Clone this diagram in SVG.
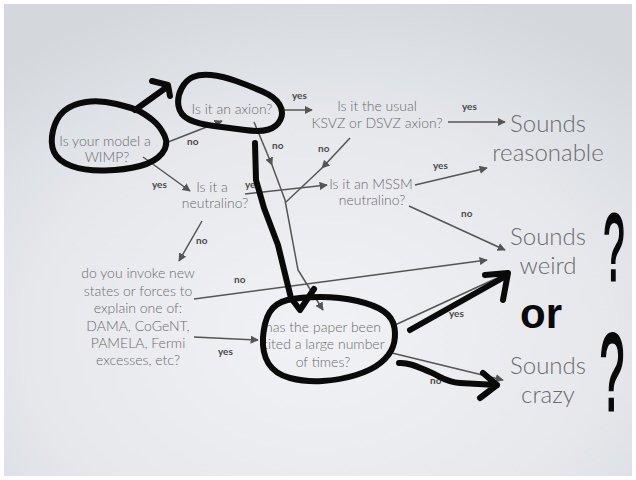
<svg xmlns="http://www.w3.org/2000/svg" width="636" height="480" viewBox="0 0 636 480">
<defs>
<radialGradient id="bg" cx="50%" cy="70%" r="75%">
<stop offset="0" stop-color="#f1f2f5"/>
<stop offset="0.6" stop-color="#e6e8ec"/>
<stop offset="1" stop-color="#d4d8dd"/>
</radialGradient>
<marker id="ah" viewBox="0 0 10 10" refX="9" refY="5" markerWidth="5.5" markerHeight="5.5" orient="auto" markerUnits="strokeWidth">
<path d="M0,0 L10,5 L0,10 z" fill="#555"/>
</marker>
<style>
.t{font-family:Lato,"Open Sans","DejaVu Sans",sans-serif;font-weight:300;font-size:14px;fill:#6b6b6b;text-anchor:middle}
.big{font-family:Lato,"Open Sans","DejaVu Sans",sans-serif;font-weight:300;font-size:24px;fill:#6b6b6b;text-anchor:middle}
.lb{font-family:Lato,"Liberation Sans",sans-serif;font-weight:bold;font-size:10px;fill:#4a4a4a}
.c{fill:none;stroke:#555;stroke-width:1.5}
.ca{fill:none;stroke:#555;stroke-width:1.5;marker-end:url(#ah)}
.hd{fill:none;stroke:#0a0a0a;stroke-width:6;stroke-linecap:round;stroke-linejoin:round}
.hw{font-family:"Liberation Sans",Arial,sans-serif;font-weight:bold;fill:#0a0a0a;text-anchor:middle}
.q{font-family:"Liberation Sans",Arial,sans-serif;font-weight:normal;fill:#0a0a0a;text-anchor:middle;stroke:#0a0a0a;stroke-width:3}
</style>
</defs>
<rect x="0" y="0" width="636" height="480" fill="#ffffff"/>
<rect x="4" y="4" width="628" height="472" fill="url(#bg)"/>

<g id="connectors">
<path class="ca" d="M163,144 L222,121"/>
<path class="ca" d="M143,157 L190,191"/>
<path class="ca" d="M283,110 L312,110"/>
<path class="ca" d="M448,122 L505,122"/>
<path class="ca" d="M254,122 L272,165"/>
<path class="c" d="M272,165 L285,200"/>
<path class="ca" d="M350,138 L322,168"/>
<path class="c" d="M322,168 L286,202"/>
<path class="ca" d="M285,200 L298,270 L323,310"/>
<path class="ca" d="M245,194 L327,185"/>
<path class="ca" d="M415,185 L487,168"/>
<path class="ca" d="M409,206 L505,250"/>
<path class="ca" d="M202,221 L179,261"/>
<path class="ca" d="M194,299 L487,260"/>
<path class="ca" d="M194,337 L258,340"/>
<path class="ca" d="M395,325 L508,273"/>
<path class="ca" d="M392,353 L503,380"/>
</g>

<g id="labels">
<text class="lb" x="292" y="99">yes</text>
<text class="lb" x="462" y="110">yes</text>
<text class="lb" x="187" y="145">no</text>
<text class="lb" x="272" y="149">no</text>
<text class="lb" x="318" y="152">no</text>
<text class="lb" x="152" y="188">yes</text>
<text class="lb" x="245" y="188">yes</text>
<text class="lb" x="433" y="169">yes</text>
<text class="lb" x="461" y="217">no</text>
<text class="lb" x="196" y="244">no</text>
<text class="lb" x="234" y="283">no</text>
<text class="lb" x="218" y="355">yes</text>
<text class="lb" x="449" y="317">yes</text>
<text class="lb" x="430" y="384">no</text>
</g>

<g id="n-wimp"><text class="t" x="105" y="146">Is your model a</text><text class="t" x="107" y="162">WIMP?</text></g>
<g id="n-axion"><text class="t" x="232" y="114">Is it an axion?</text></g>
<g id="n-usual"><text class="t" x="377" y="111">Is it the usual</text><text class="t" x="377" y="128">KSVZ or DSVZ axion?</text></g>
<g id="n-reasonable"><text class="big" x="548" y="132">Sounds</text><text class="big" x="548" y="161">reasonable</text></g>
<g id="n-neutralino"><text class="t" x="212" y="192">Is it a</text><text class="t" x="215" y="208">neutralino?</text></g>
<g id="n-mssm"><text class="t" x="371" y="189">Is it an MSSM</text><text class="t" x="372" y="205">neutralino?</text></g>
<g id="n-invoke">
<text class="t" x="138" y="278">do you invoke new</text>
<text class="t" x="138" y="296">states or forces to</text>
<text class="t" x="138" y="313">explain one of:</text>
<text class="t" x="138" y="331">DAMA, CoGeNT,</text>
<text class="t" x="138" y="348">PAMELA, Fermi</text>
<text class="t" x="138" y="365">excesses, etc?</text>
</g>
<g id="n-cited">
<text class="t" x="323" y="332">has the paper been</text>
<text class="t" x="323" y="349">cited a large number</text>
<text class="t" x="323" y="367">of times?</text>
</g>
<g id="n-weird"><text class="big" x="548" y="245">Sounds</text><text class="big" x="548" y="274">weird</text></g>
<g id="n-crazy"><text class="big" x="548" y="374">Sounds</text><text class="big" x="548" y="403">crazy</text></g>

<g id="handdrawn">
<path class="hd" d="M116.5,104 Q100,100 86,102 Q72,104 64,111 Q56,118 53,130.5 Q50,143 54,152 Q58,161 71.5,166 Q85,171 105,170.5 Q125,170 140,166 Q155,162 162,153.5 Q169,145 164.5,135.5 Q160,126 152.5,120 Q145,114 139,111 Q133,108 116.5,104 Z"/>
<path class="hd" d="M135,110 L167,87 M152,81 L168,85 L170,96"/>
<path class="hd" d="M211,75 Q222,76 236,81 Q250,86 262.5,91.5 Q275,97 279.5,104.5 Q284,112 280.5,119.5 Q277,127 268.5,129.5 Q260,132 245,130 Q230,128 214,126 Q198,124 189,119.5 Q180,115 178.5,106 Q177,97 181.5,88.5 Q186,80 193,77 Q200,74 211,75 Z"/>
<path class="hd" d="M255,143 L256,180 L264,208 L278,245 L287,282 L291,298 L300,310 L314,289"/>
<path class="hd" d="M320,297 Q340,297 357.5,301 Q375,305 384,311.5 Q393,318 394.5,328 Q396,338 393,346.5 Q390,355 381,362.5 Q372,370 356,375 Q340,380 322.5,381 Q305,382 290,378 Q275,374 268.5,363.5 Q262,353 263,337.5 Q264,322 269.5,312.5 Q275,303 287.5,300 Q300,297 320,297 Z"/>
<path class="hd" d="M410,330 L506,276 M485,275 L508,273 L503,300"/>
<path class="hd" d="M399,363 C410,362 420,368 430,372 S445,382 460,383 L497,385 M483,373 L497,385 L480,398"/>
<text class="hw" x="541" y="328" font-size="42">or</text>
<text class="q" font-size="94" transform="translate(614,280) scale(0.4,1)">?</text>
<text class="q" font-size="110" transform="translate(612,410) scale(0.4,1)">?</text>
</g>
</svg>
